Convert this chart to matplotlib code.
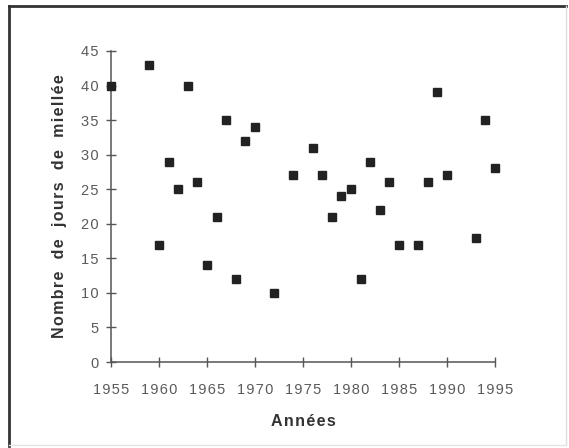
import matplotlib
matplotlib.use('Agg')
import matplotlib.pyplot as plt
from matplotlib.lines import Line2D

# années et nombre de jours de miellée
annees = [1955, 1959, 1960, 1961, 1962, 1963, 1964, 1965, 1966, 1967, 1968,
          1969, 1970, 1972, 1974, 1976, 1977, 1978, 1979, 1980, 1981, 1982,
          1983, 1984, 1985, 1987, 1988, 1989, 1990, 1993, 1994, 1995]
jours = [40, 43, 17, 29, 25, 40, 26, 14, 21, 35, 12,
         32, 34, 10, 27, 31, 27, 21, 24, 25, 12, 29,
         22, 26, 17, 17, 26, 39, 27, 18, 35, 28]

x_ticks = list(range(1955, 1996, 5))
y_ticks = list(range(0, 46, 5))


def espace(txt, mots='  '):
    # lettres un peu espacées comme sur l'original
    return mots.join('\u200a'.join(m) for m in str(txt).split(' '))


plt.rcParams['font.family'] = ['Liberation Sans', 'DejaVu Sans']

fig = plt.figure(figsize=(5.69, 4.48), dpi=100)
ax = fig.add_axes([111/569, 1 - 362/448, (495 - 111)/569, (362 - 51)/448])

ax.plot(annees, jours, linestyle='none', marker='s', markersize=5.4,
        color='#222222', clip_on=False, zorder=3)

ax.set_xlim(1955, 1995)
ax.set_ylim(0, 45)
ax.set_xticks(x_ticks)
ax.set_yticks(y_ticks)
ax.set_xticklabels([espace(v) for v in x_ticks])
ax.set_yticklabels([espace(v) for v in y_ticks])

for s in ['top', 'right']:
    ax.spines[s].set_visible(False)
for s in ['left', 'bottom']:
    ax.spines[s].set_color('#555555')
    ax.spines[s].set_linewidth(1.1)

ax.tick_params(axis='both', direction='inout', length=6.5, width=1.0,
               color='#555555', labelcolor='#5a5a5a', labelsize=10.5)
ax.tick_params(axis='x', pad=12)
ax.tick_params(axis='y', pad=6)

ax.set_xlabel(espace('Années'), fontsize=11.5, fontweight='bold',
              color='#333333', labelpad=12)
ax.set_ylabel(espace('Nombre de jours de miellée', mots='  \u2009'),
              fontsize=11.5, fontweight='bold', color='#333333', labelpad=10)

# cadre autour du graphique
fig.add_artist(Line2D([9/569, 9/569], [2/448, 1 - 6/448], color='#333333',
                      lw=2.0, transform=fig.transFigure))
fig.add_artist(Line2D([9/569, 566/569], [1 - 6/448, 1 - 6/448], color='#333333',
                      lw=2.0, transform=fig.transFigure))
fig.add_artist(Line2D([566/569, 566/569], [3/448, 1 - 6/448], color='#dddddd',
                      lw=1.0, transform=fig.transFigure))
fig.add_artist(Line2D([9/569, 566/569], [3/448, 3/448], color='#e4e4e4',
                      lw=1.0, transform=fig.transFigure))

fig.savefig('out.png', dpi=100)
